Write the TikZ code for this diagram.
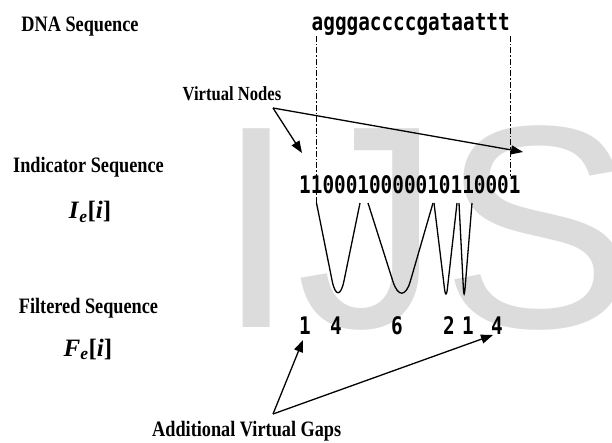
\documentclass[tikz,border=0pt]{standalone}
\usepackage{fontspec}
\usepackage{graphicx}
\setmainfont{Liberation Serif}
\newfontfamily\wmfont{Liberation Sans}
\newfontfamily\seqfont{DejaVu Sans Mono}
\usetikzlibrary{arrows.meta}
\definecolor{wmgrey}{HTML}{DCDCDC}
\newcommand\narrowtxt[1]{\scalebox{0.83}[1]{#1}}
\newcommand\talltxt[1]{\scalebox{1}[1.25]{#1}}
\tikzset{
  lbl/.style={font=\bfseries\fontsize{22}{24}\selectfont, inner sep=0pt, anchor=base},
  smalllbl/.style={font=\bfseries\fontsize{20}{22}\selectfont, inner sep=0pt, anchor=base},
  mathlbl/.style={font=\bfseries\fontsize{25}{27}\selectfont, inner sep=0pt, anchor=base},
  seq/.style={font=\seqfont\bfseries\fontsize{19.35}{20}\selectfont, inner sep=0pt, anchor=base west},
  num/.style={font=\seqfont\bfseries\fontsize{19.35}{20}\selectfont, inner sep=0pt, anchor=base},
  guide/.style={line width=1pt, dash pattern=on 6pt off 2pt on 1.5pt off 2pt},
  arr/.style={line width=1.3pt, -{Triangle[length=12pt,width=9pt]}},
  wave/.style={line width=1.3pt},
}
\begin{document}
\begin{tikzpicture}[x=1pt,y=-1pt]
\useasboundingbox (0,0) rectangle (612,443);
\clip (0,0) rectangle (612,443);
% watermark
\node[anchor=base west, inner sep=0pt, text=wmgrey, font=\wmfont\fontsize{289}{289}\selectfont] (wm) at (216,327) {IJS};
% left labels
\node[lbl] (dnalbl) at (80,32) {\narrowtxt{DNA Sequence}};
\node[lbl] (indlbl) at (88.5,173) {\narrowtxt{Indicator Sequence}};
\node[mathlbl] (indvar) at (90,219) {\textit{I}\textsubscript{\textit{e}}[\textit{i}]};
\node[lbl] (fillbl) at (88.5,313) {\narrowtxt{Filtered Sequence}};
\node[mathlbl] (filvar) at (88,356) {\textit{F}\textsubscript{\textit{e}}[\textit{i}]};
\node[smalllbl] (vnlbl) at (232,101) {\narrowtxt{Virtual Nodes}};
\node[lbl, anchor=base west] (gaplbl) at (152,436) {\narrowtxt{Additional Virtual Gaps}};
% sequences
\node[seq] (dna) at (311.5,31) {\talltxt{agggaccccgataattt}};
\node[seq] (ind) at (299,194) {\talltxt{1100010000010110001}};
% filtered numbers
\node[num] (f1) at (305,334) {\talltxt{1}};
\node[num] (f2) at (336,334) {\talltxt{4}};
\node[num] (f3) at (397,334) {\talltxt{6}};
\node[num] (f4) at (449,334) {\talltxt{2}};
\node[num] (f5) at (468,334) {\talltxt{1}};
\node[num] (f6) at (497,334) {\talltxt{4}};
% guide lines
\coordinate (gl0) at (316.5,36);
\coordinate (gl1) at (316.5,203);
\coordinate (gr0) at (510,36);
\coordinate (gr1) at (510,176);
\draw[guide] (gl0) -- (gl1);
\draw[guide] (gr0) -- (gr1);
% waves
\coordinate (c1a) at (316.5,203); \coordinate (t1) at (338,310); \coordinate (c1b) at (360,203);
\coordinate (c2a) at (368,203);   \coordinate (t2) at (402,310); \coordinate (c2b) at (433,203);
\coordinate (c3a) at (434,203);   \coordinate (t3) at (446,301); \coordinate (c3b) at (457,203);
\coordinate (c4a) at (459,203);   \coordinate (t4) at (464,301); \coordinate (c4b) at (472,203);
\draw[wave, rounded corners=30pt] (c1a) -- (t1) -- (c1b);
\draw[wave, rounded corners=30pt] (c2a) -- (t2) -- (c2b);
\draw[wave, rounded corners=12pt] (c3a) -- (t3) -- (c3b);
\draw[wave, rounded corners=12pt] (c4a) -- (t4) -- (c4b);
% virtual node arrows
\coordinate (vn0) at (273,108);
\coordinate (vn1) at (302,153);
\coordinate (vn2) at (523,152);
\draw[arr] (vn0) -- (vn1);
\draw[arr] (vn0) -- (vn2);
% additional gap arrows
\coordinate (ag0) at (273,414);
\coordinate (ag1) at (303,340);
\coordinate (ag2) at (493,335);
\draw[arr] (ag0) -- (ag1);
\draw[arr] (ag0) -- (ag2);
\end{tikzpicture}
\end{document}
